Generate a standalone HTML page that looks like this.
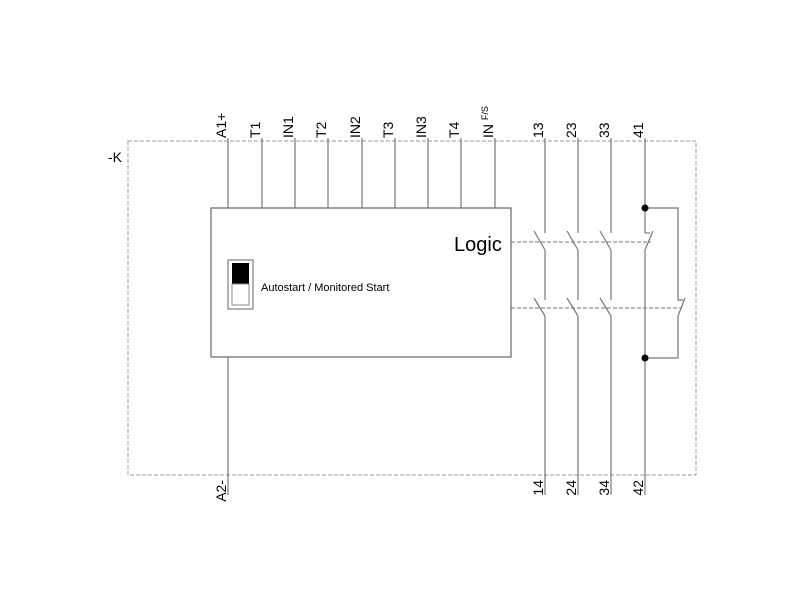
<!DOCTYPE html>
<html><head><style>body{margin:0;background:#fff}svg{display:block}</style></head><body>
<svg width="800" height="600" xmlns="http://www.w3.org/2000/svg" font-family="Liberation Sans, Arial, sans-serif">
<rect x="128" y="141" width="568" height="334" fill="none" stroke="#999" stroke-dasharray="4,2"/>
<text x="108" y="162" font-size="14">-K</text>
<g stroke="#777" stroke-width="1.2" fill="none">
<rect x="211" y="208" width="300" height="149" stroke="#666"/>
<line x1="228" y1="138" x2="228" y2="208"/>
<line x1="262" y1="138" x2="262" y2="208"/>
<line x1="295" y1="138" x2="295" y2="208"/>
<line x1="328" y1="138" x2="328" y2="208"/>
<line x1="362" y1="138" x2="362" y2="208"/>
<line x1="395" y1="138" x2="395" y2="208"/>
<line x1="428" y1="138" x2="428" y2="208"/>
<line x1="461" y1="138" x2="461" y2="208"/>
<line x1="495" y1="138" x2="495" y2="208"/>
<line x1="228" y1="357" x2="228" y2="495"/>
<g id="c">
<line x1="545" y1="138" x2="545" y2="233"/>
<line x1="534" y1="231" x2="545" y2="250"/>
<line x1="545" y1="250" x2="545" y2="300"/>
<line x1="534" y1="298" x2="545" y2="316"/>
<line x1="545" y1="316" x2="545" y2="495"/>
</g>
<use href="#c" x="33"/>
<use href="#c" x="66"/>
<line x1="645" y1="138" x2="645" y2="233"/>
<line x1="645" y1="233" x2="650" y2="233"/>
<line x1="653" y1="231" x2="645" y2="250"/>
<line x1="645" y1="250" x2="645" y2="495"/>
<polyline points="645,208 678,208 678,300 683,300"/>
<line x1="685" y1="298" x2="678" y2="316"/>
<polyline points="678,316 678,358 645,358"/>
</g>
<g stroke="#777" stroke-dasharray="4,2" stroke-width="1">
<line x1="511" y1="242" x2="651" y2="242"/>
<line x1="511" y1="308" x2="682" y2="308"/>
</g>
<circle cx="645" cy="208" r="3.5" fill="#000"/>
<circle cx="645" cy="358" r="3.5" fill="#000"/>
<text x="454" y="251" font-size="20">Logic</text>
<rect x="228" y="260" width="25" height="49" fill="#fff" stroke="#666"/>
<rect x="232" y="263" width="17" height="21" fill="#000"/>
<rect x="232" y="284" width="17" height="21" fill="#fff" stroke="#888"/>
<text x="261" y="291" font-size="11">Autostart / Monitored Start</text>
<g font-size="14" fill="#000">
<text transform="translate(226,138) rotate(-90)">A1+</text>
<text transform="translate(260,138) rotate(-90)">T1</text>
<text transform="translate(293,138) rotate(-90)">IN1</text>
<text transform="translate(326,138) rotate(-90)">T2</text>
<text transform="translate(360,138) rotate(-90)">IN2</text>
<text transform="translate(393,138) rotate(-90)">T3</text>
<text transform="translate(426,138) rotate(-90)">IN3</text>
<text transform="translate(459,138) rotate(-90)">T4</text>
<text transform="translate(493,138) rotate(-90)">IN <tspan font-size="9" dy="-5">F/S</tspan></text>
<text transform="translate(543,138) rotate(-90)">13</text>
<text transform="translate(576,138) rotate(-90)">23</text>
<text transform="translate(609,138) rotate(-90)">33</text>
<text transform="translate(643,138) rotate(-90)">41</text>
<text transform="translate(226,480) rotate(-90)" text-anchor="end">A2-</text>
<text transform="translate(543,480) rotate(-90)" text-anchor="end">14</text>
<text transform="translate(576,480) rotate(-90)" text-anchor="end">24</text>
<text transform="translate(609,480) rotate(-90)" text-anchor="end">34</text>
<text transform="translate(643,480) rotate(-90)" text-anchor="end">42</text>
</g>
</svg>
</body></html>
